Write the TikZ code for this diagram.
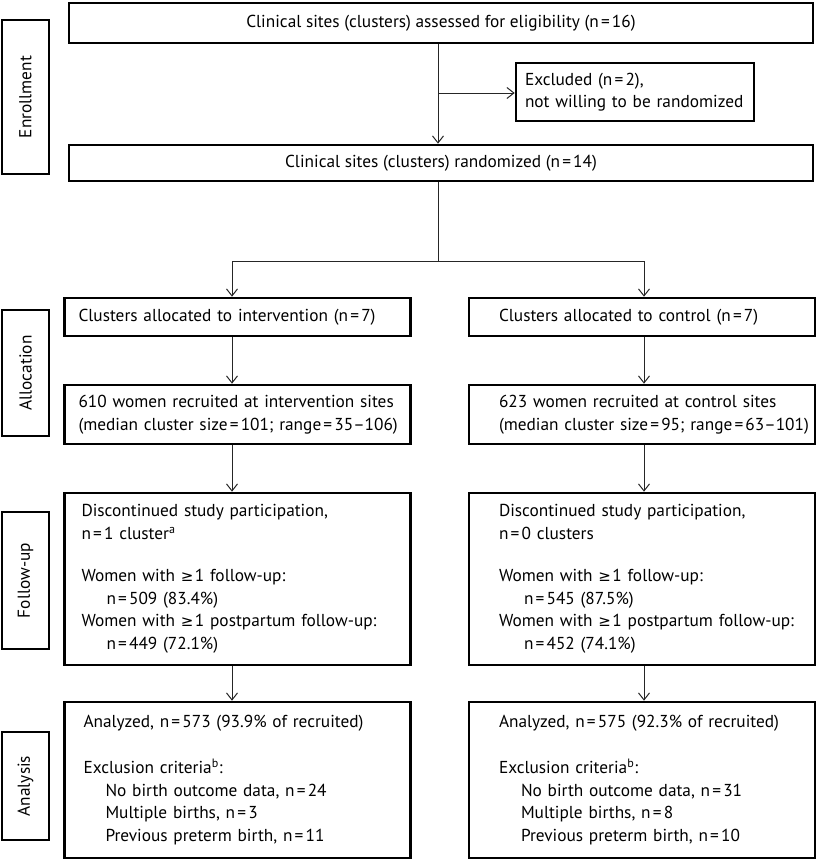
\documentclass[tikz,border=0pt]{standalone}
\usepackage{fontspec}
\setmainfont{PT Sans}
\newfontfamily\symfont{DejaVu Sans}
\usetikzlibrary{arrows.meta}
\newcommand\fs{\fontsize{17.3}{22.5}\selectfont}
\newcommand\eq{\kern2.2pt=\kern2.2pt}
\newcommand\geqs{{\symfont\fontsize{15}{15}\selectfont ≥}\kern1.5pt}
\begin{document}
\begin{tikzpicture}[x=1pt,y=-1pt,
  box/.style={draw=black, line width=2.6pt, rectangle, inner sep=0pt, font=\fs},
  cbox/.style={box, align=center},
  lbox/.style={box, text width=346pt, align=left},
  side/.style={box, rotate=90, minimum height=47pt, align=center},
  con/.style={draw=black!85, line width=1pt},
  arr/.style={con, -{Straight Barb[length=7pt,width=11pt]}}
]
\useasboundingbox (0,0) rectangle (816,859);

% Section labels
\node[side, minimum width=154pt] (l1) at (25.5,97) {Enrollment};
\node[side, minimum width=126pt] (l2) at (25.5,373) {Allocation};
\node[side, minimum width=137pt] (l3) at (25.5,580.5) {Follow-up};
\node[side, minimum width=108pt] (l4) at (25.5,786) {Analysis};

% Enrollment
\node[cbox, minimum width=744pt, minimum height=40pt] (top) at (441,23)
  {Clinical sites (clusters) assessed for eligibility (n\eq 16)};
\node[box, text width=238pt, align=left, minimum height=58pt] (excl) at (635,92)
  {\leftskip=9pt Excluded (n\eq 2),\\not willing to be randomized\par};
\node[cbox, minimum width=744pt, minimum height=36pt] (rand) at (441,163)
  {Clinical sites (clusters) randomized (n\eq 14)};

% Intervention arm
\node[lbox, minimum height=38pt] (ia) at (237.5,317)
  {\leftskip=14pt Clusters allocated to intervention (n\eq 7)\par};
\node[lbox, minimum height=59pt] (ir) at (237.5,414.5)
  {\leftskip=14pt 610 women recruited at intervention sites\\(median cluster size\eq 101; range\eq 35–106)\par};
\node[lbox, minimum height=172pt] (if) at (237.5,579)
  {\leftskip=17pt Discontinued study participation,\\n\eq 1 cluster\textsuperscript{a}\\[20pt]Women with \geqs 1 follow-up:\\\hspace*{25pt}n\eq 509 (83.4\%)\\Women with \geqs 1 postpartum follow-up:\\\hspace*{25pt}n\eq 449 (72.1\%)\par};
\node[lbox, minimum height=156pt] (ian) at (237.5,780)
  {\leftskip=19pt Analyzed, n\eq 573 (93.9\% of recruited)\\[24pt]Exclusion criteria\textsuperscript{b}:\\\hspace*{22pt}No birth outcome data, n\eq 24\\\hspace*{22pt}Multiple births, n\eq 3\\\hspace*{22pt}Previous preterm birth, n\eq 11\par};

% Control arm
\node[lbox, minimum height=38pt] (ca) at (642,317)
  {\leftskip=30pt Clusters allocated to control (n\eq 7)\par};
\node[lbox, minimum height=59pt] (cr) at (642,414.5)
  {\leftskip=30pt 623 women recruited at control sites\\(median cluster size\eq 95; range\eq 63–101)\par};
\node[lbox, minimum height=172pt] (cf) at (642,579)
  {\leftskip=30pt Discontinued study participation,\\n\eq 0 clusters\\[20pt]Women with \geqs 1 follow-up:\\\hspace*{25pt}n\eq 545 (87.5\%)\\Women with \geqs 1 postpartum follow-up:\\\hspace*{25pt}n\eq 452 (74.1\%)\par};
\node[lbox, minimum height=156pt] (can) at (642,780)
  {\leftskip=30pt Analyzed, n\eq 575 (92.3\% of recruited)\\[24pt]Exclusion criteria\textsuperscript{b}:\\\hspace*{22pt}No birth outcome data, n\eq 31\\\hspace*{22pt}Multiple births, n\eq 8\\\hspace*{22pt}Previous preterm birth, n\eq 10\par};

% Connectors
\coordinate (c1) at (438,93);
\coordinate (jl) at (232,261);
\coordinate (jr) at (644,261);
\draw[arr] (top.south -| c1) -- (rand.north -| c1);
\draw[arr] (c1) -- (excl.west |- c1);
\draw[con] (rand.south -| c1) -- (c1 |- jl);
\draw[con] (jl) -- (jr);
\draw[arr] (jl) -- (ia.north -| jl);
\draw[arr] (jr) -- (ca.north -| jr);
\draw[arr] (ia.south -| jl) -- (ir.north -| jl);
\draw[arr] (ir.south -| jl) -- (if.north -| jl);
\draw[arr] (if.south -| jl) -- (ian.north -| jl);
\draw[arr] (ca.south -| jr) -- (cr.north -| jr);
\draw[arr] (cr.south -| jr) -- (cf.north -| jr);
\draw[arr] (cf.south -| jr) -- (can.north -| jr);
\end{tikzpicture}
\end{document}
